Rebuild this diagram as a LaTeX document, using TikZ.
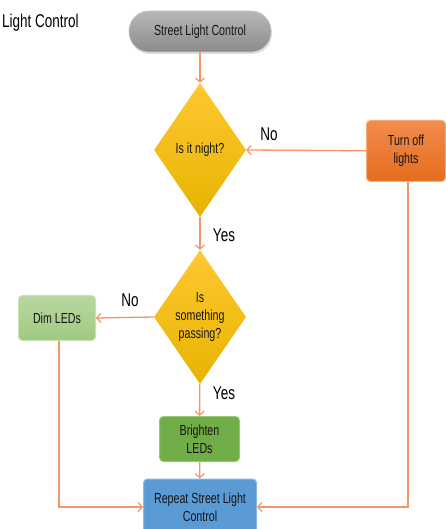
\documentclass[tikz,border=0pt]{standalone}
\usepackage{fontspec}
\setmainfont{Liberation Sans}[FakeStretch=0.73]
\usetikzlibrary{shapes.geometric,arrows.meta,shadows}
\definecolor{conn}{RGB}{242,150,105}
\definecolor{grayT}{RGB}{182,182,182}
\definecolor{grayB}{RGB}{140,140,140}
\definecolor{goldT}{RGB}{254,200,50}
\definecolor{goldB}{RGB}{232,180,0}
\definecolor{orT}{RGB}{242,140,78}
\definecolor{orB}{RGB}{228,108,28}
\definecolor{orE}{RGB}{246,170,120}
\definecolor{lgT}{RGB}{184,216,160}
\definecolor{lgB}{RGB}{160,201,130}
\definecolor{lgE}{RGB}{200,226,180}
\definecolor{dg}{RGB}{112,173,71}
\definecolor{dgE}{RGB}{150,200,120}
\definecolor{bl}{RGB}{91,155,213}
\definecolor{blE}{RGB}{140,185,230}
\definecolor{txt}{RGB}{20,20,20}
\begin{document}
\begin{tikzpicture}[x=1pt,y=-1pt,
  boxtext/.style={font=\fontsize{14.6}{18}\selectfont, text=txt, align=center, inner sep=0pt},
  terminal/.style={boxtext, rectangle, rounded corners=20pt, minimum width=142pt, minimum height=41pt,
     top color=grayT, bottom color=grayB, draw=grayT!80!white, line width=0.6pt,
     drop shadow={shadow xshift=1pt, shadow yshift=-2pt, opacity=0.25}},
  decision/.style={boxtext, diamond, aspect=0.687, minimum width=92pt, minimum height=134pt,
     top color=goldT, bottom color=goldB, draw=none},
  procbox/.style={boxtext, rectangle, rounded corners=4pt, line width=1pt},
  arr/.style={draw=conn, line width=1.3pt, -{Straight Barb[length=4pt,width=9pt,line width=1.2pt]}},
  lbl/.style={font=\fontsize{18.5}{20}\selectfont, text=black, inner sep=0pt}
]
\clip (0,0) rectangle (446,529);
\fill[white] (0,0) rectangle (446,529);

\node[lbl, anchor=west] (title) at (2,23) {Light Control};

\node[terminal] (start) at (200,31.5) {Street Light Control};
\node[decision] (d1) at (200,150) {Is it night?};
\node[procbox, minimum width=79pt, minimum height=61pt, top color=orT, bottom color=orB, draw=orE] (off) at (406,151) {Turn off\\lights};
\node[decision] (d2) at (200,317) {Is\\something\\passing?};
\node[procbox, minimum width=77pt, minimum height=45pt, top color=lgT, bottom color=lgB, draw=lgE] (dim) at (57,318) {Dim LEDs};
\node[procbox, minimum width=80pt, minimum height=45pt, fill=dg, draw=dgE] (bright) at (199.5,439) {Brighten\\LEDs};
\node[procbox, minimum width=113pt, minimum height=56pt, fill=bl, draw=blE] (rep) at (200,507) {Repeat Street Light\\Control};

\draw[arr] (start) -- (d1);
\draw[arr] (off) -- (d1.east);
\node[lbl] (no1) at (269,134) {No};
\draw[arr] (d1) -- (d2);
\node[lbl] (yes1) at (224,235) {Yes};
\draw[arr] (d2.west) -- (dim.east);
\node[lbl] (no2) at (130,300) {No};
\draw[arr] (d2) -- (bright);
\node[lbl] (yes2) at (224,393) {Yes};
\draw[arr] (bright) -- (rep);
\draw[arr] ([xshift=2pt]dim.south) |- (rep.west);
\draw[arr] ([xshift=2pt]off.south) |- (rep.east);
\end{tikzpicture}
\end{document}
